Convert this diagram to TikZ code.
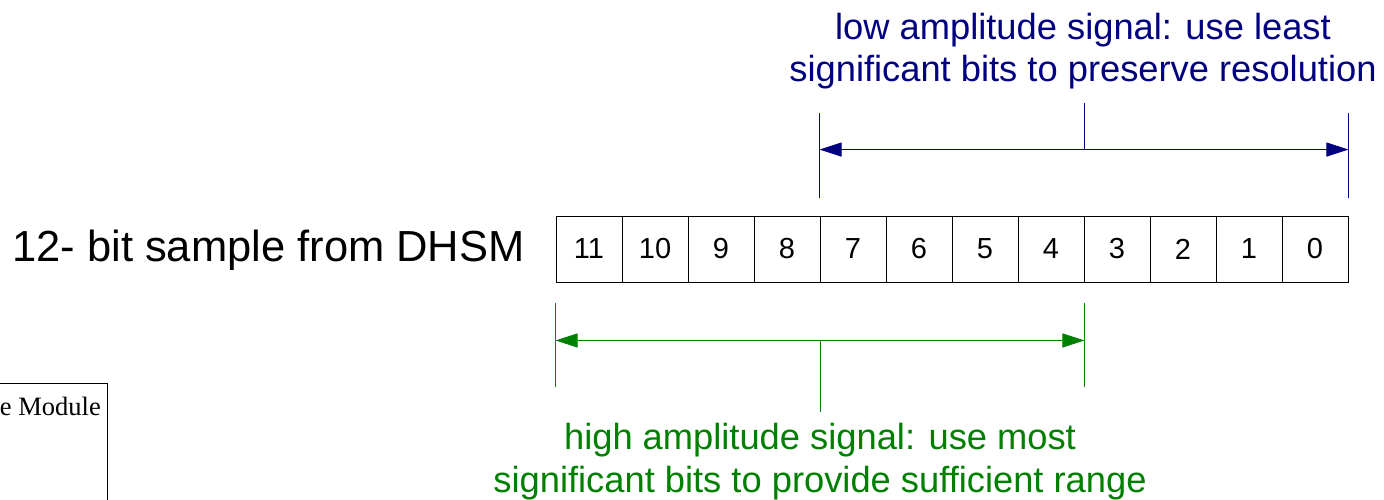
\documentclass[tikz,border=0pt]{standalone}
\usepackage{fontspec}
\setmainfont{Liberation Sans}
\newfontfamily\serifface{Liberation Serif}
\usetikzlibrary{arrows.meta,calc}
\definecolor{lowcol}{RGB}{0,0,128}
\definecolor{highcol}{RGB}{0,128,0}
\begin{document}
\begin{tikzpicture}[x=1pt,y=-1pt,
  bitcell/.style={draw=black,line width=0.9pt,minimum width=66pt,minimum height=66pt,
    inner sep=0pt,font=\fontsize{29}{34}\selectfont},
  bigtext/.style={inner sep=0pt,anchor=base,font=\fontsize{43.5}{52}\selectfont},
  notetext/.style={inner sep=0pt,anchor=base,font=\fontsize{36.3}{42.5}\selectfont},
  limitline/.style={line width=1.6pt},
  spanarrow/.style={line width=1pt,{Triangle[length=22pt,width=14pt]}-{Triangle[length=22pt,width=14pt]}},
  ticklinestyle/.style={line width=1pt}]
\useasboundingbox (0,0) rectangle (1384,499);

% partly visible module box at the lower left
\draw[line width=0.9pt] (-10,383) -- (107,383) -- (107,510);
\node[inner sep=0pt,anchor=base east,font=\serifface\fontsize{26.5}{31}\selectfont]
  (modlabel) at (101,415.7) {e Module};

% caption of the register
\node[bigtext] (caption) at (268.5,261) {12- bit sample from DHSM};

% the twelve bit cells, most significant on the left
\foreach \i in {0,...,11}{
  \pgfmathtruncatemacro{\bitno}{11-\i}
  \node[bitcell] (b\bitno) at ({556+66*(\i+0.5)},249) {\bitno};
}

% low amplitude span: bits 7..0
\coordinate (lowL) at ($(b7.north west)+(0,-18)$);
\coordinate (lowR) at ($(b0.north east)+(0,-18)$);
\draw[lowcol,limitline] (lowL) -- ++(0,-85);
\draw[lowcol,limitline] (lowR) -- ++(0,-85);
\coordinate (lowAL) at ($(lowL)+(0,-48)$);
\coordinate (lowAR) at ($(lowR)+(0,-48)$);
\draw[lowcol,spanarrow] (lowAL) -- (lowAR);
\coordinate (lowMid) at ($(lowAL)!0.5!(lowAR)$);
\draw[lowcol,ticklinestyle] (lowMid) -- ++(0,-47);
\node[notetext,text=lowcol] (lowA) at (1083,39.3) {low amplitude signal: use least};
\node[notetext,text=lowcol] (lowB) at (1083,81.7) {significant bits to preserve resolution};

% high amplitude span: bits 11..4
\coordinate (highL) at ($(b11.south west)+(0,21)$);
\coordinate (highR) at ($(b4.south east)+(0,21)$);
\draw[highcol,limitline] (highL) -- ++(0,84);
\draw[highcol,limitline] (highR) -- ++(0,84);
\coordinate (highAL) at ($(highL)+(0,37)$);
\coordinate (highAR) at ($(highR)+(0,37)$);
\draw[highcol,spanarrow] (highAL) -- (highAR);
\coordinate (highMid) at ($(highAL)!0.5!(highAR)$);
\draw[highcol,ticklinestyle] (highMid) -- ++(0,72);
\node[notetext,text=highcol] (highA) at (820,449) {high amplitude signal: use most};
\node[notetext,text=highcol] (highB) at (820,492) {significant bits to provide sufficient range};
\end{tikzpicture}
\end{document}
